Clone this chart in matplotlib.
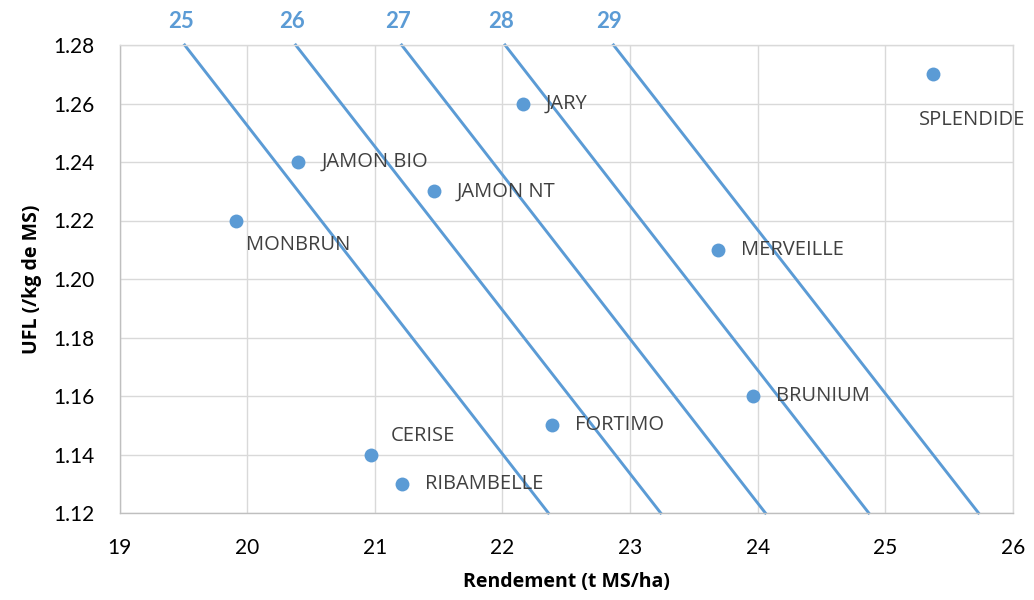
import matplotlib
matplotlib.use("Agg")
import matplotlib.pyplot as plt

# Varieties
names = ["SPLENDIDE", "JARY", "JAMON BIO", "JAMON NT", "MONBRUN", "MERVEILLE",
         "BRUNIUM", "FORTIMO", "CERISE", "RIBAMBELLE"]
rendement = [25.37, 22.16, 20.40, 21.46, 19.91, 23.69, 23.96, 22.39, 20.97, 21.21]
ufl = [1.27, 1.26, 1.24, 1.23, 1.22, 1.21, 1.16, 1.15, 1.14, 1.13]

# Iso-production lines (thousand UFL/ha)
iso_labels = ["25", "26", "27", "28", "29"]
iso_y = [1.28, 1.12]
iso_x_top = [19.51, 20.38, 21.21, 22.02, 22.87]
iso_x_bot = [22.36, 23.24, 24.06, 24.87, 25.73]

x_ticks = [19, 20, 21, 22, 23, 24, 25, 26]
y_ticks = [1.12, 1.14, 1.16, 1.18, 1.20, 1.22, 1.24, 1.26, 1.28]

# label placement (offsets in pixels)
label_pos = {
    "SPLENDIDE": (-14, -46, "left"),
    "JARY": (23, 0, "left"),
    "JAMON BIO": (23, 0, "left"),
    "JAMON NT": (23, 0, "left"),
    "MONBRUN": (10, -25, "left"),
    "MERVEILLE": (23, 0, "left"),
    "BRUNIUM": (23, 0, "left"),
    "FORTIMO": (23, 0, "left"),
    "CERISE": (20, 19, "left"),
    "RIBAMBELLE": (23, 0, "left"),
}

blue = "#5B9BD5"
fig = plt.figure(figsize=(10.34, 6.0), dpi=100)
ax = fig.add_axes([0.1156, 0.145, 0.8641, 0.78])

for lab, xt, xb in zip(iso_labels, iso_x_top, iso_x_bot):
    ax.plot([xt, xb], iso_y, color=blue, lw=2.1, zorder=2, clip_on=False)
    ax.annotate(lab, xy=(xt, iso_y[0]), xytext=(-4, 23), textcoords="offset pixels",
                ha="center", va="center", color=blue, fontsize=16,
                fontweight="bold", family="Lato", annotation_clip=False)

ax.scatter(rendement, ufl, s=100, color=blue, zorder=3, linewidths=0)

for n, x, y in zip(names, rendement, ufl):
    dx, dy, ha = label_pos[n]
    ax.annotate(n, xy=(x, y), xytext=(dx, dy), textcoords="offset pixels",
                ha=ha, va="center", color="#404040", fontsize=14.5,
                family="Open Sans", zorder=4)

ax.set_xlim(19, 26)
ax.set_ylim(1.12, 1.28)
ax.set_xticks(x_ticks)
ax.set_yticks(y_ticks)
ax.set_xticklabels([str(v) for v in x_ticks], family="Lato", fontsize=15, color="#000000")
ax.set_yticklabels([f"{v:.2f}" for v in y_ticks], family="Lato", fontsize=15, color="#000000")
ax.tick_params(axis="y", length=0, pad=18)
ax.tick_params(axis="x", length=0, pad=18)
ax.grid(True, color="#D9D9D9", lw=1)
ax.set_axisbelow(True)
for s in ax.spines.values():
    s.set_color("#D9D9D9")
    s.set_linewidth(1)
ax.spines["bottom"].set_color("#BFBFBF")
ax.spines["left"].set_color("#BFBFBF")

ax.set_xlabel("Rendement (t MS/ha)", family="Open Sans", fontweight="bold",
              fontsize=14, labelpad=10)
ax.set_ylabel("UFL (/kg de MS)", family="Open Sans", fontweight="bold",
              fontsize=14, labelpad=8)

fig.savefig("out.png", dpi=100)
